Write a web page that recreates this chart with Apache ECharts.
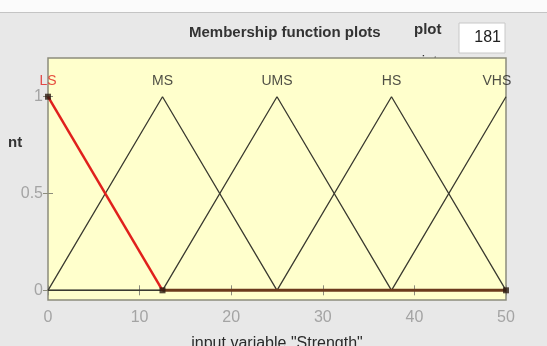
<!DOCTYPE html>
<html>
<head>
<meta charset="utf-8">
<script src="https://cdn.jsdelivr.net/npm/echarts@6/dist/echarts.min.js"></script>
<style>
  html, body { margin: 0; padding: 0; background: #e8e8e8; }
  #chart { width: 547px; height: 346px; }
</style>
</head>
<body>
<div id="chart"></div>
<script>
// membership functions of input "Strength" (corner points)
const lsX = [0, 12.5, 50]
const lsY = [1, 0, 0]
const msX = [0, 12.5, 25, 50]
const msY = [0, 1, 0, 0]
const umsX = [0, 12.5, 25, 37.5, 50]
const umsY = [0, 0, 1, 0, 0]
const hsX = [0, 25, 37.5, 50]
const hsY = [0, 0, 1, 0]
const vhsX = [0, 37.5, 50]
const vhsY = [0, 0, 1]

const mfNames = ['LS', 'MS', 'UMS', 'HS', 'VHS']
const mfLabelX = [0, 12.5, 25, 37.5, 49]
const yTicks = [0, 0.5, 1]

const zip = (xs, ys) => xs.map((x, i) => [x, ys[i]])

const chart = echarts.init(document.getElementById('chart'))

const font = 'Liberation Sans'
const lineColor = '#3a3a30'
const tickColor = '#8c8c7c'
const thin = (name, xs, ys) => ({
  name,
  type: 'line',
  data: zip(xs, ys),
  symbol: 'none',
  silent: true,
  z: 3,
  lineStyle: { color: lineColor, width: 1.3 }
})

chart.setOption({
  animation: false,
  backgroundColor: '#e8e8e8',
  grid: {
    left: 48,
    right: 41,
    top: 58,
    bottom: 46,
    outerBoundsMode: 'none',
    containLabel: false,
    show: true,
    backgroundColor: '#ffffcc',
    borderColor: '#8c8c7c',
    borderWidth: 1.5
  },
  xAxis: [{
    type: 'value',
    min: 0,
    max: 50,
    interval: 10,
    position: 'bottom',
    axisLine: { show: false },
    splitLine: { show: false },
    axisTick: { inside: true, length: 5, lineStyle: { color: tickColor } },
    axisLabel: { color: '#a4a4a4', fontSize: 16, margin: 10, fontFamily: font },
    name: 'input variable "Strength"',
    nameLocation: 'middle',
    nameGap: 36,
    nameTextStyle: { color: '#2a2a2a', fontSize: 16, fontFamily: font }
  }, {
    type: 'value',
    min: 0,
    max: 50,
    interval: 10,
    position: 'top',
    axisLine: { show: false },
    splitLine: { show: false },
    axisTick: { inside: true, length: 5, lineStyle: { color: tickColor } },
    axisLabel: { show: false }
  }],
  yAxis: [{
    type: 'value',
    min: -0.05,
    max: 1.2,
    axisLine: { show: false },
    splitLine: { show: false },
    axisTick: { show: true, inside: true, length: 5, customValues: yTicks, lineStyle: { color: tickColor } },
    axisLabel: { customValues: yTicks, color: '#a4a4a4', fontSize: 16, margin: 5, fontFamily: font }
  }, {
    type: 'value',
    min: -0.05,
    max: 1.2,
    position: 'right',
    axisLine: { show: false },
    splitLine: { show: false },
    axisTick: { show: true, inside: true, length: 5, customValues: yTicks, lineStyle: { color: tickColor } },
    axisLabel: { show: false }
  }],
  series: [
    thin('MS', msX, msY),
    thin('UMS', umsX, umsY),
    thin('HS', hsX, hsY),
    thin('VHS', vhsX, vhsY),
    {
      name: 'LS',
      type: 'line',
      data: zip(lsX, lsY).slice(0, 2),
      symbol: 'none',
      z: 5,
      lineStyle: { color: '#e0201c', width: 2.5 }
    },
    {
      name: 'LS zero',
      type: 'line',
      data: zip(lsX, lsY).slice(1),
      symbol: 'none',
      z: 4,
      lineStyle: { color: '#6b3a1c', width: 3 }
    },
    {
      name: 'corners',
      type: 'scatter',
      data: zip(lsX, lsY),
      symbol: 'rect',
      symbolSize: 6,
      z: 6,
      itemStyle: { color: '#2a1a10' }
    },
    {
      name: 'labels',
      type: 'scatter',
      data: mfNames.map((n, i) => ({
        value: [mfLabelX[i], 1.08],
        name: n,
        label: n === 'LS' ? { color: '#e0201c' } : undefined
      })),
      symbolSize: 0,
      z: 7,
      label: {
        show: true,
        position: 'inside',
        formatter: p => p.name,
        fontSize: 14,
        fontFamily: font,
        color: '#222'
      },
      labelLayout: { hideOverlap: false }
    }
  ],
  graphic: [
    { type: 'rect', shape: { x: 0, y: 0, width: 547, height: 12 }, style: { fill: '#fbfbfb' }, z: -2 },
    { type: 'rect', shape: { x: 0, y: 12, width: 547, height: 1 }, style: { fill: '#c4c4c4' }, z: -2 },
    { type: 'text', left: 189, top: 25, style: { text: 'Membership function plots', fontSize: 15, fontWeight: 'bold', fontFamily: font, fill: '#333' } },
    { type: 'text', left: 414, top: 22, style: { text: 'plot', fontSize: 15, fontWeight: 'bold', fontFamily: font, fill: '#333' } },
    { type: 'text', left: 405, top: 54, z: -1, style: { text: 'points:', fontSize: 15, fontFamily: font, fill: '#333' } },
    { type: 'rect', shape: { x: 459, y: 23, width: 46, height: 30 }, style: { fill: '#fff', stroke: '#c8c8c8' } },
    { type: 'text', right: 46, top: 30, style: { text: '181', fontSize: 16, fontFamily: font, fill: '#222' } },
    { type: 'text', left: 8, top: 135, style: { text: 'nt', fontSize: 15, fontWeight: 'bold', fontFamily: font, fill: '#333' } }
  ]
})
</script>
</body>
</html>
